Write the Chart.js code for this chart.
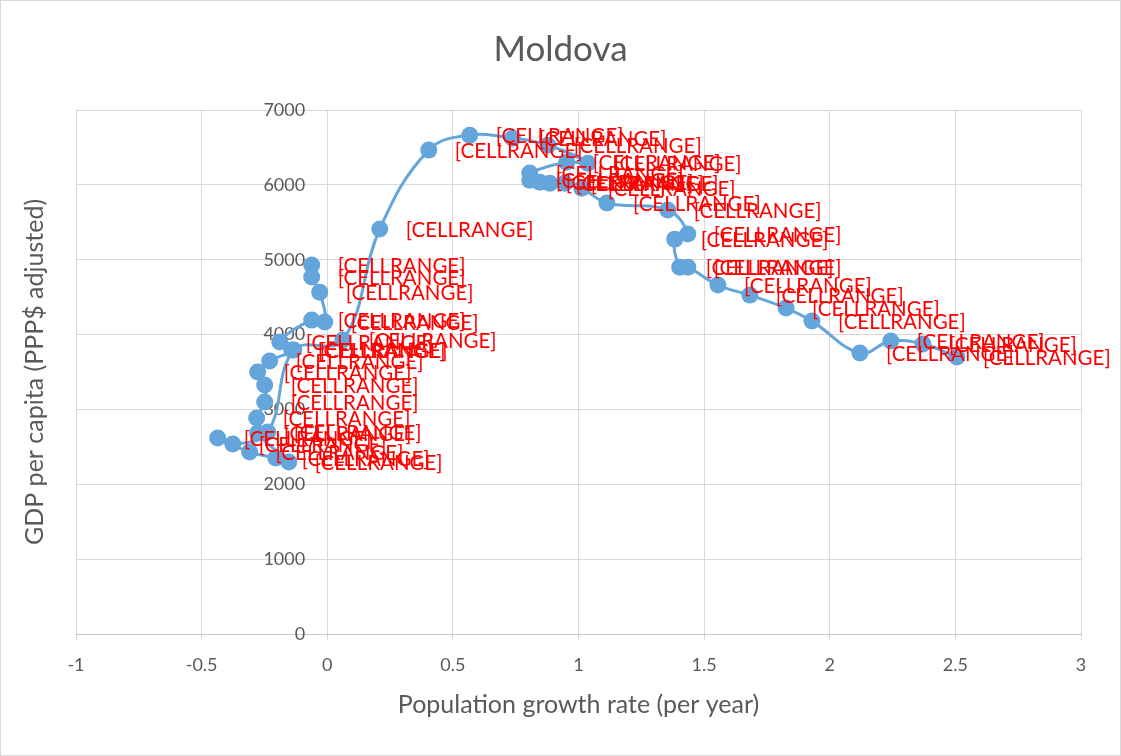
<!DOCTYPE html>
<html>
<head>
<meta charset="utf-8">
<script src="https://cdn.jsdelivr.net/npm/chart.js@4.4.1/dist/chart.umd.min.js"></script>
<style>
  html, body { margin: 0; padding: 0; background: #fff; }
</style>
</head>
<body>
<canvas id="chartMoldova" width="1121" height="756"></canvas>
<script>
/* ── Moldova: GDP per capita vs population growth ─────────── */
const growthRate = [
  2.506, 2.371, 2.243, 2.120, 1.929, 1.826, 1.682, 1.555, 1.435, 1.403,
  1.383, 1.435, 1.355, 1.113, 1.013, 0.945, 0.886, 0.846, 0.806, 0.806,
  0.953, 1.037, 0.878, 0.738, 0.567, 0.404, 0.209, 0.062, -0.133, -0.237,
  -0.376, -0.436, -0.309, -0.205, -0.153, -0.277, -0.281, -0.249, -0.249, -0.277,
  -0.229, -0.141, -0.189, -0.062, -0.010, -0.030, -0.062, -0.062
];
const gdpPerCapita = [
  3699, 3873, 3913, 3753, 4180, 4354, 4527, 4661, 4901, 4901,
  5275, 5342, 5664, 5757, 5956, 6023, 6023, 6036, 6063, 6157,
  6303, 6290, 6530, 6624, 6664, 6464, 5409, 3926, 3793, 2698,
  2537, 2618, 2431, 2350, 2297, 2684, 2885, 3098, 3325, 3499,
  3646, 3793, 3900, 4193, 4167, 4567, 4768, 4928
];
const xTickLabels = ['-1', '-0.5', '0', '0.5', '1', '1.5', '2', '2.5', '3'];
const yTickLabels = ['0', '1000', '2000', '3000', '4000', '5000', '6000', '7000'];
const pointLabel  = '[CELLRANGE]';

const blue  = '#64A5DB';
const grid  = '#D9D9D9';
const text  = '#595959';
const font  = 'Lato, "Open Sans", sans-serif';

// chart frame
const framePlugin = {
  id: 'frame',
  beforeDraw(chart) {
    const { ctx, width, height } = chart;
    ctx.save();
    ctx.fillStyle = '#fff';
    ctx.fillRect(0, 0, width, height);
    ctx.strokeStyle = grid;
    ctx.lineWidth = 1;
    ctx.strokeRect(0.5, 0.5, width - 1, height - 1);
    ctx.restore();
  }
};

// red "[CELLRANGE]" labels to the right of each point
const cellLabels = {
  id: 'cellLabels',
  afterDatasetsDraw(chart) {
    const { ctx } = chart;
    const meta = chart.getDatasetMeta(0);
    ctx.save();
    ctx.font = '20.5px ' + font;
    ctx.fillStyle = '#FF0000';
    ctx.textAlign = 'left';
    ctx.textBaseline = 'middle';
    meta.data.forEach(pt => ctx.fillText(pointLabel, pt.x + 26, pt.y + 1));
    ctx.restore();
  }
};

// empty side axis used only to reserve room
const spacer = (pos, w, titleText, pad) => ({
  type: 'linear',
  position: pos,
  display: true,
  ticks: { display: false },
  grid: { display: false, drawTicks: false },
  border: { display: false },
  title: {
    display: !!titleText,
    text: titleText || '',
    color: text,
    font: { family: font, size: 25 },
    padding: { top: pad, bottom: 0 }
  },
  afterFit: s => { s.width = w; }
});

new Chart(document.getElementById('chartMoldova'), {
  type: 'scatter',
  data: {
    datasets: [{
      data: growthRate.map((g, i) => ({ x: g, y: gdpPerCapita[i] })),
      showLine: true,
      tension: 0.4,
      borderColor: blue,
      borderWidth: 3,
      backgroundColor: blue,
      pointRadius: 8.5,
      pointHoverRadius: 8.5,
      pointBorderWidth: 0
    }]
  },
  options: {
    responsive: false,
    animation: false,
    layout: { padding: 0 },
    plugins: {
      legend: { display: false },
      tooltip: { enabled: false },
      title: {
        display: true,
        text: 'Moldova',
        color: text,
        font: { family: font, size: 35, weight: 'normal' },
        padding: { top: 29, bottom: 39 }
      }
    },
    scales: {
      x: {
        type: 'linear',
        position: 'bottom',
        min: -1, max: 3,
        ticks: {
          stepSize: 0.5,
          color: text,
          font: { family: font, size: 18 },
          padding: 14,
          callback: (v, i) => xTickLabels[i]
        },
        grid: { color: grid, tickLength: 6, tickColor: grid },
        border: { color: '#C8C8C8', width: 1 },
        title: {
          display: true,
          text: 'Population growth rate (per year)',
          color: text,
          font: { family: font, size: 25 },
          padding: { top: 0, bottom: 36 }
        },
        afterFit: s => { s.height = 122; }
      },
      // y axis sits just left of x = 0 so its labels keep a gap from the line
      y: {
        type: 'linear',
        position: { x: -0.088 },
        min: 0, max: 7000,
        ticks: {
          stepSize: 1000,
          color: text,
          font: { family: font, size: 18 },
          callback: (v, i) => yTickLabels[i]
        },
        grid: { color: grid, drawTicks: false },
        border: { display: false }
      },
      yTitle: spacer('left', 76, 'GDP per capita (PPP$ adjusted)', 20),
      yRight: spacer('right', 40, '', 0)
    }
  },
  plugins: [framePlugin, cellLabels]
});
</script>
</body>
</html>
